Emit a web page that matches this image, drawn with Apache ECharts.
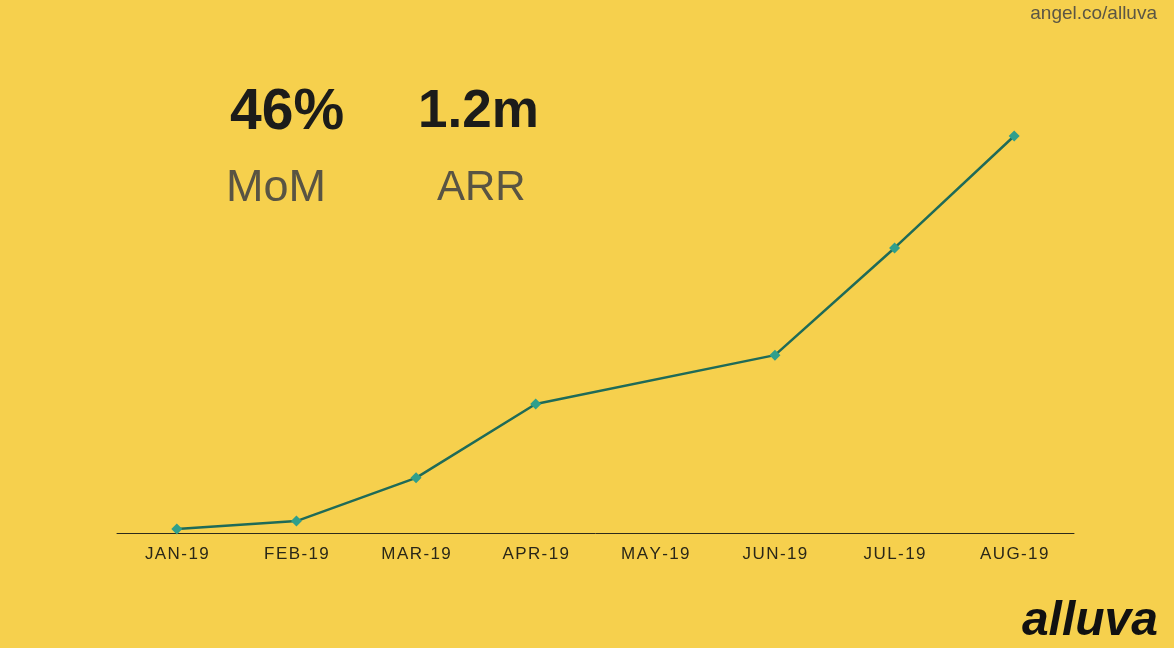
<!DOCTYPE html>
<html>
<head>
<meta charset="utf-8">
<script src="https://cdn.jsdelivr.net/npm/echarts@6/dist/echarts.min.js"></script>
<style>
    html, body {
        margin: 0;
        padding: 0;
        background: #f6d04d;
    }

    #chart {
        width: 1174px;
        height: 648px;
    }
</style>
</head>
<body>
<div id="chart"></div>
<script>
// monthly revenue (k), May has no point in the original
const months = ['JAN-19', 'FEB-19', 'MAR-19', 'APR-19', 'MAY-19', 'JUN-19', 'JUL-19', 'AUG-19'];
const revenue = [1.0, 3.0, 13.9, 32.5, null, 44.8, 71.8, 100];

const chart = echarts.init(document.getElementById('chart'));
const option = {
    backgroundColor: '#f6d04d',
    animation: false,
    grid: {
        left: 117,
        right: 100,
        top: 136,
        bottom: 115
    },
    xAxis: {
        type: 'category',
        data: months,
        boundaryGap: true,
        axisLine: {
            lineStyle: { color: '#2c2a1c', width: 1 }
        },
        axisTick: { show: false },
        axisLabel: {
            color: '#2a2718',
            fontFamily: 'Liberation Sans',
            fontSize: 17,
            margin: 13,
            // wide tracking like the original slide
            formatter: v => v.split('').join('\u200A')
        }
    },
    yAxis: {
        type: 'value',
        min: 0,
        max: 100,
        show: false,
        splitLine: { show: false }
    },
    series: [
        {
            type: 'line',
            data: revenue,
            connectNulls: true,
            symbol: 'diamond',
            symbolSize: 11,
            lineStyle: { color: '#1f6b58', width: 2.5 },
            itemStyle: { color: '#2f9f8c' }
        }
    ],
    graphic: [
        {
            type: 'text',
            left: 230,
            top: 85,
            style: { text: '46%', font: 'bold 57px "Liberation Sans"', fill: '#1c1c1a' }
        },
        {
            type: 'text',
            left: 418,
            top: 86,
            style: { text: '1.2m', font: 'bold 53px "Liberation Sans"', fill: '#1c1c1a' }
        },
        {
            type: 'text',
            left: 226,
            top: 166,
            style: { text: 'MoM', font: '45px "Liberation Sans"', fill: '#595443' }
        },
        {
            type: 'text',
            left: 437,
            top: 167,
            style: { text: 'ARR', font: '42px "Liberation Sans"', fill: '#595443' }
        },
        {
            type: 'text',
            right: 17,
            top: 4,
            style: { text: 'angel.co/alluva', font: '19px "Liberation Sans"', fill: '#5b5645' }
        },
        {
            type: 'text',
            right: 16,
            top: 598,
            style: { text: 'alluva', font: 'italic 900 48px "Liberation Sans"', fill: '#111111' }
        }
    ]
};
chart.setOption(option);
</script>
</body>
</html>
